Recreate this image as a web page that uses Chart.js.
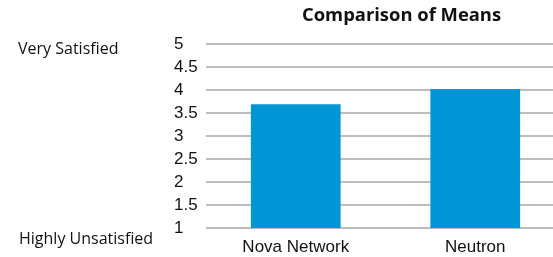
<!DOCTYPE html>
<html>
<head>
<meta charset="utf-8">
<script src="https://cdn.jsdelivr.net/npm/chart.js@4"></script>
<style>
  html, body { margin: 0; padding: 0; background: #fff; overflow: hidden; }
  #wrap { position: relative; width: 600px; height: 257px; }
</style>
</head>
<body>
<div id="wrap"><canvas id="grafico" width="600" height="257"></canvas></div>
<script>
const categorias = ['Nova Network', 'Neutron'];
const medias = [3.69, 4.02];
const titulo = 'Comparison of Means';
const rotuloTopo = 'Very Satisfied';
const rotuloBase = 'Highly Unsatisfied';

// textos fora do eixo: titulo e extremos da escala
const textosExtra = {
  id: 'textosExtra',
  afterDraw(chart) {
    const ctx = chart.ctx;
    ctx.save();
    ctx.fillStyle = '#111';
    ctx.textBaseline = 'alphabetic';
    ctx.textAlign = 'left';
    ctx.font = 'bold 18.4px "Open Sans"';
    ctx.fillText(titulo, 302, 20.5);
    ctx.font = '16px "Open Sans"';
    ctx.fillText(rotuloTopo, 18, 53.5);
    ctx.fillText(rotuloBase, 19, 244);
    ctx.restore();
  }
};

const ctx = document.getElementById('grafico').getContext('2d');
new Chart(ctx, {
  type: 'bar',
  data: {
    labels: categorias,
    datasets: [{
      data: medias,
      backgroundColor: '#0096d6',
      barPercentage: 0.5,
      categoryPercentage: 1
    }]
  },
  options: {
    responsive: false,
    animation: false,
    devicePixelRatio: 1,
    layout: { padding: { left: 174, top: 44, right: 35, bottom: 0 } },
    plugins: { legend: { display: false }, tooltip: { enabled: false } },
    scales: {
      x: {
        grid: { display: false, drawTicks: false },
        border: { display: false },
        ticks: { color: '#111', font: { family: 'Liberation Sans', size: 17 }, padding: 9 },
        afterFit: s => { s.height = 29; }
      },
      y: {
        min: 1,
        max: 5,
        border: { display: false },
        grid: { color: '#bdbdbd', lineWidth: 2, drawTicks: false },
        ticks: {
          stepSize: 0.5,
          autoSkip: false,
          callback: v => String(v),
          color: '#111',
          font: { family: 'Liberation Sans', size: 17 },
          crossAlign: 'far',
          padding: 8
        },
        afterFit: s => { s.width = 32; }
      }
    }
  },
  plugins: [textosExtra]
});
</script>
</body>
</html>
